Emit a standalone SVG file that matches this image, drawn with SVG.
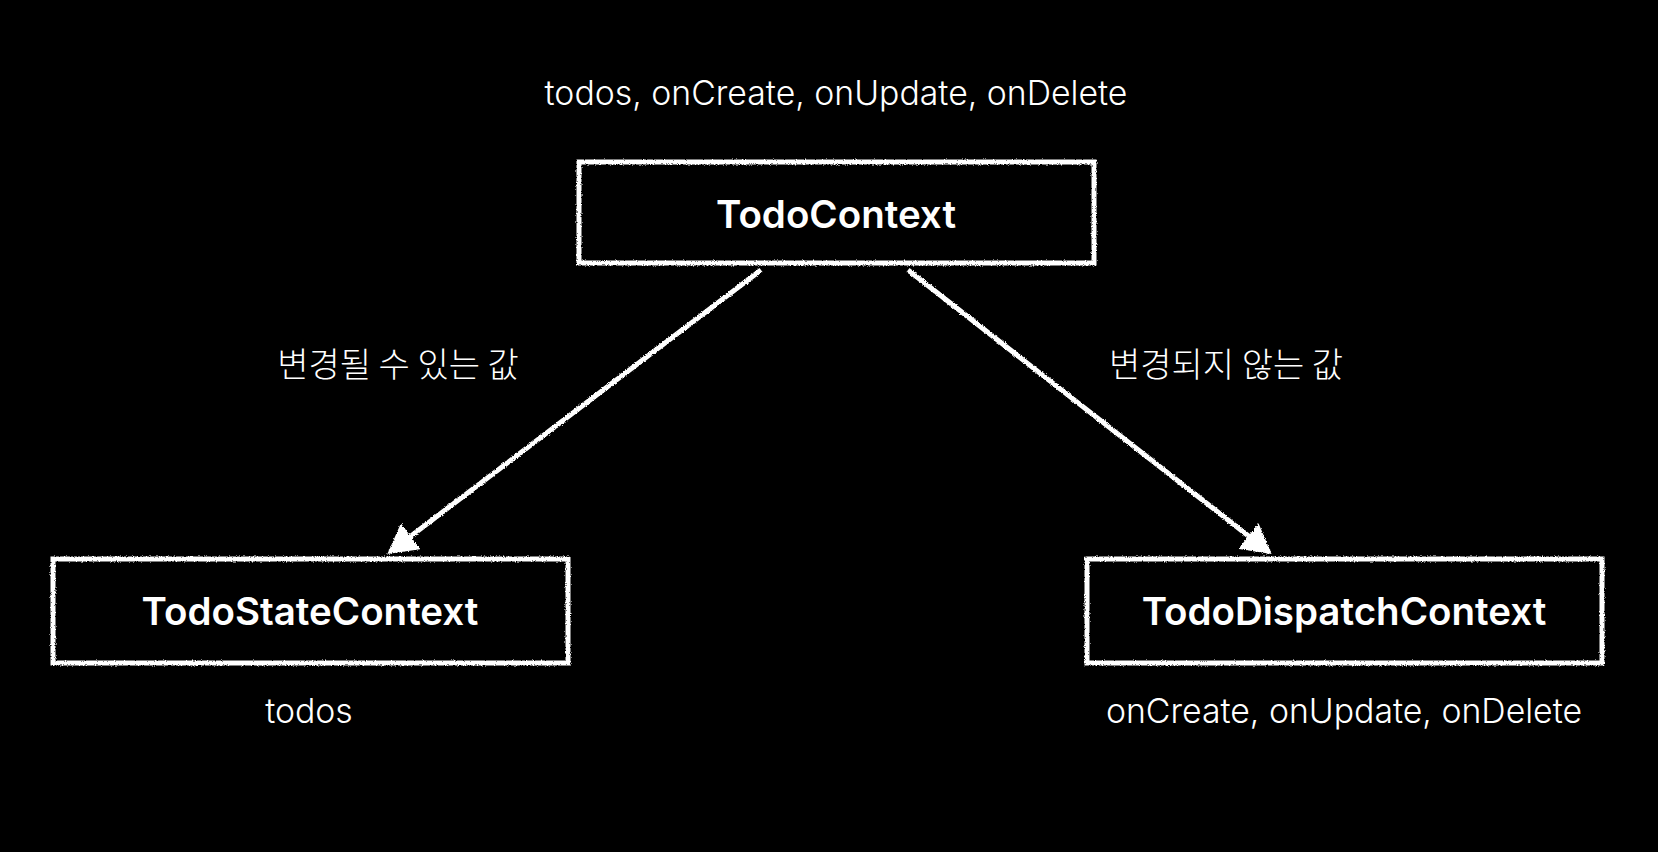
<svg xmlns="http://www.w3.org/2000/svg" width="1658" height="852" viewBox="0 0 1658 852">
  <style>
    .box { fill: #000; stroke: #fff; stroke-width: 5; filter: url(#chalk); }
    .title { font-family: Inter, "Liberation Sans", "Noto Sans CJK KR", sans-serif; font-weight: 600; font-size: 38.5px; fill: #fff; text-anchor: middle; }
    .label { font-family: Inter, "Liberation Sans", "Noto Sans CJK KR", sans-serif; font-weight: 300; font-size: 33.8px; fill: #fff; text-anchor: middle; }
    .kr { font-family: "Noto Sans CJK KR", sans-serif; font-weight: 300; font-size: 34px; fill: #fff; text-anchor: middle; }
    .edge { stroke: #fff; stroke-width: 5; fill: none; filter: url(#chalk); }
  </style>
  <defs>
    <filter id="chalk" x="-5%" y="-5%" width="110%" height="110%">
      <feTurbulence type="fractalNoise" baseFrequency="0.9" numOctaves="2" seed="3" result="n"/>
      <feDisplacementMap in="SourceGraphic" in2="n" scale="3" xChannelSelector="R" yChannelSelector="G"/>
    </filter>
    <marker id="arrow" markerWidth="6.5" markerHeight="6.5" refX="8" refY="5" orient="auto" markerUnits="strokeWidth" viewBox="0 0 10 10">
      <path d="M0,0 L9,5 L0,10 Z" fill="#fff"/>
    </marker>
  </defs>
  <rect width="1658" height="852" fill="#000"/>

  <g id="connectors">
    <line class="edge" x1="761" y1="270" x2="390" y2="552" marker-end="url(#arrow)"/>
    <line class="edge" x1="908" y1="270" x2="1269" y2="552" marker-end="url(#arrow)"/>
    <text class="kr" x="398" y="377">변경될 수 있는 값</text>
    <text class="kr" x="1226" y="377">변경되지 않는 값</text>
  </g>

  <g id="todo-context">
    <text class="label" x="836" y="105">todos, onCreate, onUpdate, onDelete</text>
    <rect class="box" x="579" y="162" width="515" height="101"/>
    <text class="title" x="836" y="228">TodoContext</text>
  </g>

  <g id="todo-state-context">
    <rect class="box" x="53" y="559" width="515" height="104"/>
    <text class="title" x="310" y="625">TodoStateContext</text>
    <text class="label" x="309" y="723">todos</text>
  </g>

  <g id="todo-dispatch-context">
    <rect class="box" x="1087" y="559" width="515" height="104"/>
    <text class="title" x="1344" y="625">TodoDispatchContext</text>
    <text class="label" x="1344" y="723">onCreate, onUpdate, onDelete</text>
  </g>
</svg>
